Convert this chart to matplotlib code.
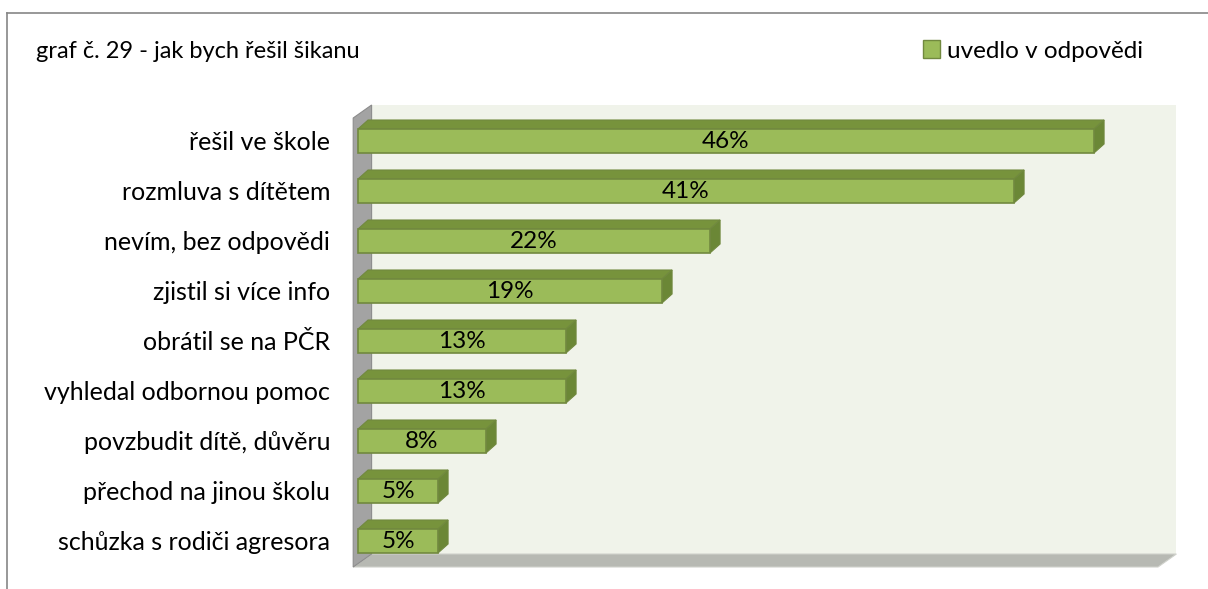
import matplotlib
matplotlib.use("Agg")
import matplotlib.pyplot as plt
from matplotlib.patches import Polygon, Patch
from matplotlib.lines import Line2D

# data
categories = ["řešil ve škole", "rozmluva s dítětem", "nevím, bez odpovědi",
              "zjistil si více info", "obrátil se na PČR", "vyhledal odbornou pomoc",
              "povzbudit dítě, důvěru", "přechod na jinou školu", "schůzka s rodiči agresora"]
values = [46, 41, 22, 19, 13, 13, 8, 5, 5]
series_name = "uvedlo v odpovědi"
title = "graf č. 29 - jak bych řešil šikanu"

plt.rcParams['font.family'] = ['Lato', 'DejaVu Sans']
FS = 17.5

W, H = 1208, 589
fig = plt.figure(figsize=(W / 100, H / 100), dpi=100)

# axes placed in pixels: x 0..50 -> 358..1158, y -0.52..8.46 -> 567..118
ax = fig.add_axes([358 / W, (H - 567) / H, 800 / W, (567 - 118) / H])
xmax = 50
ylo, yhi = -0.52, 8.46
ax.set_xlim(0, xmax)
ax.set_ylim(ylo, yhi)
for s in ax.spines.values():
    s.set_visible(False)
ax.set_xticks([])

n = len(categories)
ypos = [n - 1 - i for i in range(n)]

# walls
xw = -0.3
wdx, wdy = 1.15, 0.26
back = Polygon([(xw + wdx, ylo + wdy), (xmax + wdx, ylo + wdy),
                (xmax + wdx, yhi + wdy), (xw + wdx, yhi + wdy)],
               closed=True, facecolor="#F0F3EA", edgecolor="none", clip_on=False, zorder=0)
floor = Polygon([(xw, ylo), (xmax, ylo), (xmax + wdx, ylo + wdy), (xw + wdx, ylo + wdy)],
                closed=True, facecolor="#B7B9B3", edgecolor="#D0D2CC", lw=0.8, clip_on=False, zorder=1)
lwall = Polygon([(xw, ylo), (xw, yhi), (xw + wdx, yhi + wdy), (xw + wdx, ylo + wdy)],
                closed=True, facecolor="#A3A3A3", edgecolor="#8C8C8C", lw=0.8, clip_on=False, zorder=1)
for p in (back, floor, lwall):
    ax.add_patch(p)

# 3d bars
h = 0.24
bdx, bdy = 0.63, 0.18
for y, v in zip(ypos, values):
    front = Polygon([(0, y - h), (v, y - h), (v, y + h), (0, y + h)], closed=True,
                    facecolor="#9BBB59", edgecolor="#71893F", lw=1.2, clip_on=False, zorder=3)
    top = Polygon([(0, y + h), (v, y + h), (v + bdx, y + h + bdy), (bdx, y + h + bdy)],
                  closed=True, facecolor="#77933C", edgecolor="#71893F", lw=0.8,
                  clip_on=False, zorder=2)
    side = Polygon([(v, y - h), (v + bdx, y - h + bdy), (v + bdx, y + h + bdy), (v, y + h)],
                   closed=True, facecolor="#6B8736", edgecolor="#71893F", lw=0.8,
                   clip_on=False, zorder=2)
    for p in (top, side, front):
        ax.add_patch(p)
    ax.text(v / 2, y, f"{v}%", ha="center", va="center", fontsize=FS, color="black", zorder=4)

ax.set_yticks(ypos)
ax.set_yticklabels(categories, fontsize=18)
ax.tick_params(axis="y", length=0, pad=20)

# title and legend
fig.text(36 / W, 1 - 52 / H, title, fontsize=17, ha="left", va="center")
fig.legend(handles=[Patch(facecolor="#9BBB59", edgecolor="#71893F", label=series_name)],
           loc="center left", bbox_to_anchor=(918 / W, 1 - 51 / H), frameon=False,
           fontsize=FS, handlelength=0.7, handleheight=0.7, handletextpad=0.3,
           borderaxespad=0, borderpad=0.2)

# outer frame
fig.add_artist(Line2D([7 / W, 1], [1 - 13 / H, 1 - 13 / H], color="#868686", lw=1.2))
fig.add_artist(Line2D([7 / W, 7 / W], [0, 1 - 13 / H], color="#868686", lw=1.2))

fig.savefig("out.png", dpi=100)
